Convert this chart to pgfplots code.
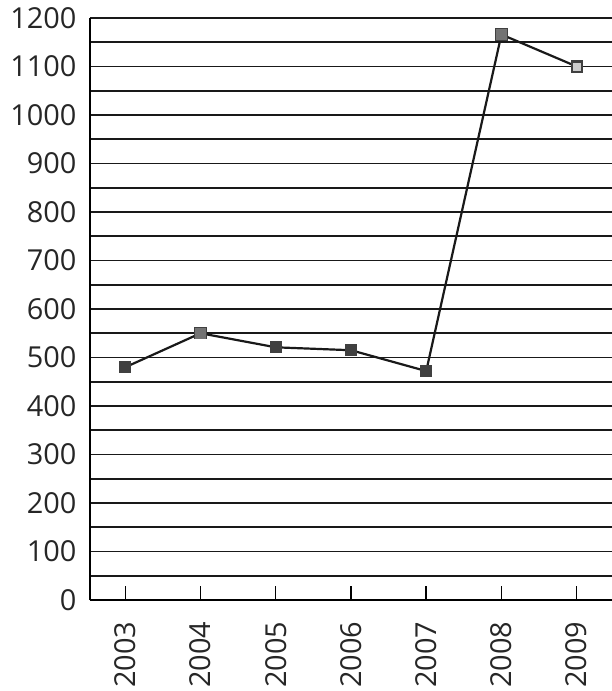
\documentclass[border=0pt]{standalone}
\usepackage{pgfplots}
\pgfplotsset{compat=1.18}
\usepackage{fontspec}
\setmainfont{Open Sans}
\begin{document}
\begin{tikzpicture}
\useasboundingbox (-90bp,-91bp) rectangle (522bp,600bp);
\begin{axis}[
  at={(0,0)}, anchor=south west,
  scale only axis,
  width=522bp, height=582bp,
  xmin=2002.53, xmax=2009.47,
  ymin=0, ymax=1200,
  xtick={2003,...,2009},
  ytick={0,100,...,1200},
  minor ytick={50,150,...,1150},
  ymajorgrids, yminorgrids,
  grid style={black!90, line width=1.6bp},
  minor grid style={black!90, line width=1.6bp},
  axis x line*=bottom,
  axis y line*=left,
  axis line style={black, line width=2bp, -},
  tick align=inside,
  xtick pos=bottom,
  major tick length=14bp,
  x tick style={black, line width=1.4bp},
  y tick style={draw=none},
  x tick label style={rotate=90, anchor=east},
  xticklabel shift=18bp,
  yticklabel shift=10bp,
  /pgf/number format/1000 sep={},
  /pgf/number format/assume math mode=true,
  tick label style={font=\fontsize{29}{33}\selectfont, text=black!85},
  clip=false,
]
\addplot[black!90, line width=2.2bp, mark=square*, mark size=5bp,
  mark options={fill=black!75, draw=black!75}]
  coordinates {(2003,480) (2004,550) (2005,521) (2006,515) (2007,472) (2008,1166) (2009,1100)};
\addplot[only marks, mark=square*, mark size=3.5bp, mark options={fill=black!20, draw=black!20}]
  coordinates {(2009,1100)};
\addplot[only marks, mark=square*, mark size=5bp, mark options={fill=black!55, draw=black!55}]
  coordinates {(2004,550) (2008,1166)};
\end{axis}
\end{tikzpicture}
\end{document}
